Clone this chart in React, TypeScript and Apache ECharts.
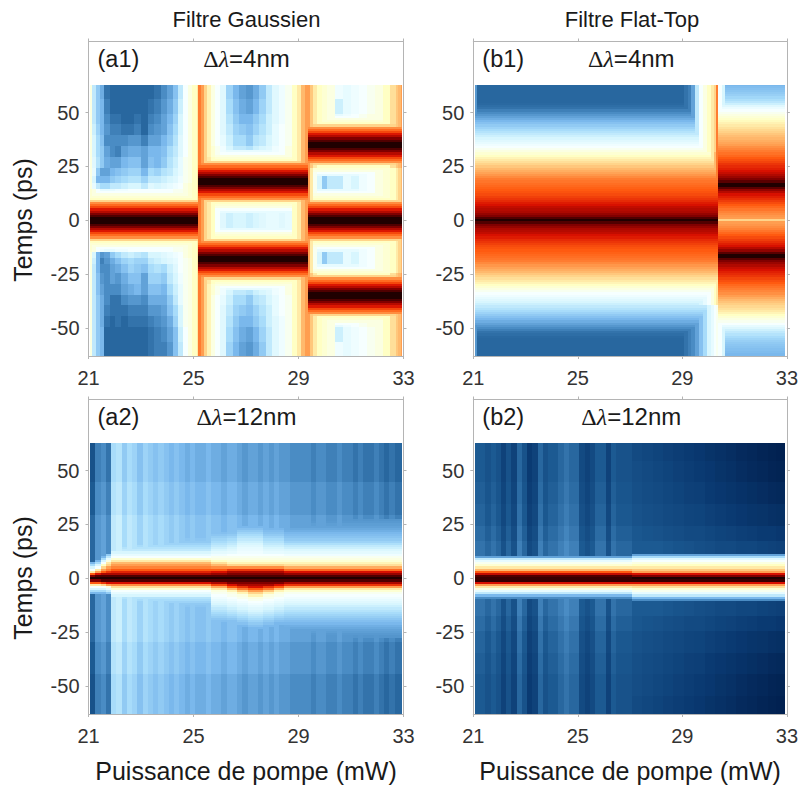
import React, { useEffect, useRef } from "react";
import * as echarts from "echarts";

// Colour scale: value 0..28 maps evenly onto these colours
const colourScale = ["#01204f","#0a3a72","#1c5a92","#4a8cc4","#7ab8ec","#a8dcfa","#d8f6fe","#f6ffff","#ffffc4","#ffd48a","#ff9e50","#ff5a10","#d81000","#800000","#200000"];

const xTicks = [21, 25, 29, 33];
const yTicks = [-50, -25, 0, 25, 50];

// ---------- Panel a1 ----------
const a1Cols = [21.06,21.15,21.3,21.45,21.6,21.8,22,22.25,22.5,22.75,23,23.25,23.5,23.75,24,24.2,24.4,24.6,24.8,24.95,25.05,25.15,25.18,25.3,25.4,25.5,25.65,25.8,26,26.25,26.5,26.75,27,27.25,27.5,27.75,28,28.25,28.5,28.75,28.95,29.1,29.25,29.36,29.45,29.55,29.7,29.9,30.1,30.4,30.7,31,31.3,31.6,31.9,32.2,32.5,32.7,32.8,32.9,32.94];
const a1Bands = [13, 15, 18, 21, 25, 30, 35, 40, 45, 50, 57, 64];
const a1ZoneATop = [
  [15.5,15,14,13,13,13,13.5,13.5,14,14,14,14,14,14,14,14.5,14.5,15,15.5,16,16,17],
  [15.5,15,14,13,13,13,13.5,13.5,14,14,14,14,14,14,14,14.5,14.5,15,15.5,16,16,17],
  [15,13,11,10,10,11,11,11.5,12,12,11,12.5,12,12.5,13,13.5,14,15,15.5,16,16,17],
  [15,12,8,8,8,9,9.5,10,10.5,10.5,9.5,11,11,11.5,12,12.5,13.5,14.5,15,16,16,17],
  [15,13,9,7,7,8,8.5,9,9.5,9.5,8,10,9.5,10.5,11,12,13,14.5,15,16,16,17],
  [15,12.5,10.5,9,7.5,7,7,8,8.5,8.5,7,8.5,8,9,10.5,11.5,13,14.5,15,16,16,17],
  [15,12,10,9,7,6,5.5,7,7.5,7.5,7,8,8,8.5,10,11,12.5,14,15,16,16,17],
  [15,12,10,8.5,6,6,6,6,6.5,6.5,5.5,7,7,8,9,10.5,12.5,14,15,16,16,17],
  [15,11.5,9.5,8,6.5,5.5,5.5,5,5,5.5,4.5,6,6.5,7,8.5,10,12,14,15,16,16,17],
  [15,11,9,8,6,5,5,4.5,4.5,5,4.5,5.5,6,7,8,9.5,12,14,15,16,16,17],
  [15,11,9,8,5.5,4.5,4.5,4.5,4.5,4.5,4.5,5,5.5,6.5,7.5,9,11.5,14,15,16,16,17],
  [15,11,9,7.5,5,4.5,4.5,4.5,4.5,4.5,4.5,4.5,5,6,7,8.5,11,14,15,16,16,17],
];
const a1ZoneABottom = [
  [15.5,15,14,13.5,13,13,13.5,13.5,14,14,14,14,14,14,14,14.5,14.5,15,15.5,16,16,17],
  [15.5,15,14,13.5,13,13,13.5,13.5,14,14,14,14,14,14,14,14.5,14.5,15,15.5,16,16,17],
  [15,12,8,6.5,7,9,10,11,11.5,11,10.5,12,12,12.5,13,13.5,14,15,15.5,16,16,17],
  [15,11.5,8,5.5,6.5,7.5,8.5,9.5,10,9.5,9.5,11,11.5,12,12.5,13,14,14.5,15,16,16,17],
  [15,11,8,6,6,7,7.5,8.5,9.5,9,8.5,10,10.5,10,11.5,12.5,14,14.5,15,16,16,17],
  [15,11,8.5,6.5,6,7,6.5,7.5,8.5,8.5,7,9.5,9.5,9,11,12,13.5,14.5,15,16,16,17],
  [15,11,8.5,7,6,6,6,7,7.5,8,7,8.5,8.5,8,10,11.5,13,14.5,15,16,16,17],
  [15,11,9,7.5,6,5,5,6,6.5,6.5,6,7.5,7.5,7.5,9,11,13,14.5,15,16,16,17],
  [15,11,9,7.5,5.5,5,5,5,5.5,5.5,5.5,6.5,6.5,7,8.5,10,12,14.5,15,16,16,17],
  [15,11,9,7.5,5,4.5,5,4.5,5,5,5,5.5,6,6.5,7.5,9.5,12,14.5,15,16,16,17],
  [15,11,9,8,4.5,4.5,4.5,4.5,4.5,4.5,4.5,5,5.5,6,7,8.5,11.5,14,15,16,16,17],
  [15,11,9,8,4.5,4.5,4.5,4.5,4.5,4.5,4.5,5,5.5,5.5,6.5,8.5,11,14,15,16,16,17],
];
const a1ZoneB = [
  [21,20,18,17,16,14,12.5,11.5,12,12,11.5,12,12.5,13,13,12.5,13,16,17,19,20],
  [21,20,18,17,16,15,14,13,12.5,12.5,13,13,13,13.5,14,14.5,15,16,17,19,20],
  [21,20,18,17,16,15,14,13,12.5,12.5,13,13,13,13.5,14,14.5,15,16,17,19,20],
  [21,20,18,17,16,15,14,13,12.5,12.5,13,13,13,13.5,14,14.5,15,16,17,19,20],
  [21,20,18,17,16,15,14,13,12.5,12.5,13,13,13,13.5,14,14.5,15,16,17,19,20],
  [21,20,18,17,16,15,14,13,12.5,12.5,13,13,13,13.5,14,14.5,15,16,17,19,20],
  [21,20,18,16.5,15.5,14.5,13.5,12,11,11,10.5,11.5,12,12.5,13.5,14,15,16,17,19,20],
  [21,20,18,16.5,15,14,13,11.5,10,10,9,10.5,11,12,13,14,14.5,16,17,19,20],
  [21,20,18,16.5,15,14,12.5,11,9.5,9,8.5,9.5,10.5,11.5,13,14,14.5,16,17,19,20],
  [21,20,18,16.5,15,14,12.5,10.5,9,8,8,9,10,11.5,12.5,13.5,14.5,16,17,19,20],
  [21,20,18,16.5,15,14,12.5,10,8.5,7.5,7,8,9.5,11,12.5,13.5,14.5,16,17,19,20],
  [21,20,18,16.5,15,14,12.5,9.5,8,7,6.5,7.5,9,11,12.5,13.5,14.5,16,17,19,20],
];
const a1ZoneC = [
  [20,17,14.5,12,9,11,11,13,12,13.5,14,15,15.5,16,17,18,19],
  [20,17,14.5,12,9,11,11,13,12,13.5,14,15,15.5,16,17,18,19],
  [20,17,14.5,12,9,11,11,13,12,13.5,14,15,15.5,16,17,18,19],
  [20,17,14.5,12,9,11,11,13,12,13.5,14,15,15.5,16,17,18,19],
  [20,17,14.5,12,9,11,11,13,12,13.5,14,15,15.5,16,17,18,19],
  [20,18.5,17,16,15.5,15,14,14,14,14.5,15,15,16,17.5,18.5,19,20],
  [20,18.5,17,16,15.5,15,14,14,14,14.5,15,15,16,17.5,18.5,19,20],
  [20,18.5,17,16,15.5,15,14,14,14,14.5,15,15,16,17.5,18.5,19,20],
  [20,18.5,17,16,15.5,15,14,14,14,14.5,15,15,16,17.5,18.5,19,20],
  [20,18.5,17,16,15.5,15,13,13.5,14,14.5,15,15,16,17.5,18.5,19,20],
  [20,18.5,17,16,15.5,15,11.5,13,13.5,14,14.5,15,16,17.5,18.5,19,20],
  [20,18.5,17,16,15.5,15,13.5,13,13.5,14,14.5,15,16,17.5,18.5,19,20],
];
const a1PulseShape = [28,28,27,26,24.8,23.8,22.5,21.5,20.5,18,16,15.5,15,14,13];
const a1CentresA = [0];
const a1CentresB = [-18, 18];
const a1CentresC = [-35, 0, 35];

// ---------- Panel b1 ----------
const b1Cols = [21.06,21.15,21.4,24,26,27.5,28.25,28.75,28.9,29.05,29.2,29.35,29.5,29.65,29.8,29.95,30.1,30.2,30.3,30.36,30.5,30.65,30.8,32.94];
const b1Bands = [18, 25, 32, 40, 64];
const b1BgTop = [
  [0,0,0,0,0,0,0,0,0,0,0,0,0,0,0,0,0,0,0,0,0,0,0],
  [0,0,0,0,0,0,0,0,0,0,0,0,0,0,0,0,0,0,21,0,0,0,0],
  [0,0,0,0,0,0,0,0,0,0,0,0,0,0,0,0,17,19,21,0,0,0,0],
  [6.5,0,0,0,0,0,0,4.5,4.5,5,5.5,7,11,14,15,16,17,18,21,14,12,0,0],
  [6.5,0,0,0,0,0,0,4.5,4.5,5,5.5,7,11,14,15,16,17,18,21,14,12,0,0],
];
const b1BgBottom = [
  [0,0,0,0,0,0,0,0,0,0,0,0,0,0,0,0,0,0,0,0,0,0,0],
  [0,0,0,0,0,0,0,0,0,0,0,0,0,0,0,0,0,0,0,0,0,0,0],
  [0,0,0,0,0,0,0,0,0,0,0,0,0,0,0,0,0,16,17,0,0,0,0],
  [6.5,0,0,0,0,0,0,0,0,0,0,8,10,12,13,14,15,16,17,0,0,0,0],
  [6.5,0,0,0,0,0,0,4.5,4.5,5,5.5,6,7,8.5,10,12,13,14,14.5,14,12,0,0],
];
const b1Left = [28,27,26,25.5,25,24.8,24.5,24,23.7,23.3,23,22.7,22.4,22.2,22,21.8,21.6,21.4,21.2,21,20.6,20.2,19.8,19.4,19,18.5,18,17.5,17,16.5,16,15.5,15,14.5,14,13.5,13,12.5,12,11.5,11,10.5,10,9.5,9,8.5,8,7.5,7,6.5,6,5.5,5,4.8,4.6,4.5,4.5,4.5,4.5,4.5,4.5,4.5,4.5,4.5];
const b1RightTop = [18,20,20.2,20.5,20.8,21.2,21.6,22,22.4,22.8,23.2,23.6,24,24.8,25.6,26.8,28,28,26.8,26,25.4,24.9,24.4,24,23.6,23.3,23,22.6,22.3,22,21.6,21.3,21,20.7,20.4,20,19.7,19.4,19.1,18.8,18.5,18.1,17.8,17.4,17,16.6,16.2,15.8,15.4,15,14.5,14,13.3,12.5,11.5,10.8,10.2,9.7,9.3,9,8.7,8.5,8.3,8];
const b1RightBottom = [18,20,20.2,20.5,20.8,21.2,21.6,22,22.4,22.8,23.2,23.6,24,24.8,25.6,26.8,28,28,26.8,26,25.4,24.9,24.4,24,23.6,23.3,23,22.6,22.3,22,21.6,21.3,21,20.7,20.4,20,19.5,19,18.6,18.2,17.8,17.4,17,16.5,16,15.5,15,14.5,14,13,12.3,11.6,11,10.5,10,9.6,9.3,9,8.8,8.6,8.4,8.2,8,8];

// ---------- Panel a2 ----------
const a2Cols = [21.06,21.26,21.46,21.66,21.86,22.06,22.26,22.46,22.66,22.86,23.06,23.26,23.46,23.66,23.86,24.06,24.26,24.46,24.66,24.86,25.06,25.26,25.46,25.66,25.86,26.06,26.26,26.46,26.66,26.86,27.06,27.26,27.46,27.66,27.86,28.06,28.26,28.46,28.66,28.86,29.06,29.26,29.46,29.66,29.86,30.06,30.26,30.46,30.66,30.86,31.06,31.26,31.46,31.66,31.86,32.06,32.26,32.46,32.66,32.94];
const a2Stripes = [3.5,5.5,6,5,10,10.5,9,10,9.5,8.5,9.5,9,8.5,9,8.5,8,8.5,8,7.5,8,7.5,7.5,8,7.5,7.5,7,7.5,7.5,7,6.5,7,7,6.5,7,6.5,7,6.5,6.5,6,6,6,6,5.5,6,6,5.5,5.5,6,5.5,5.5,5,5.5,5,5,5.5,5,4.5,5,4.5];
const a2Bands = [30, 45, 64];
const a2BandLift = [1, 0.5, 0];
const a2FlatTop = [28,27,25,23.5,22,20.8,20,19,17,15.5,14,13,12,11,10.5,10,9.5,9,8.8,8.5,8.2,8];
const a2FlatBottom = [28,27,24,20.5,17.5,15.5,14,13,12,10.5,10,9.5,9,8.8,8.5,8.2,8];
const a2NearTop = [28,27,25.5,24,22,20.5,19,17.5,16,15,14.5,13.5,12.8,12,11.5,11,10.5,10,9.6,9.2,8.8,8.4,8,7.6,7.3];
const a2NearBottom = [28,27,25,22.5,19.5,17,15,14.5,14,13.5,13,12.5,12,11.5,11,10.5,10,9.6,9.2,8.8,8.4,8,7.6,7.3];
const a2ShoulderTop = [28,27,26,25,23,20.5,18,16.5,15.5,15,14.5,14,13,12.5,12,11.5,11,10.5,10,9.5,9,8.6,8.3,7.9,7.5,7.2];
const a2CentreTop = [28,27,26,25,23,20.5,18,16.5,15.5,15,14.5,14,13.5,13.2,13,12.5,12,11.5,11,10.5,10,9.5,9,8.5,8,7.5,7];
const a2Bump1Bottom = [28,27,26,24,22,19,16.5,15,14.5,14,13.5,13,12.5,12,11.5,11,10.5,10,9.5,9,8.5,8,7.5,7];
const a2Bump2Bottom = [28,27,26,25,23,21,18.5,16.5,15,14.5,14,13.5,13,12.5,12,11.5,11,10.5,10,9.5,9,8.5,8,7.5,7];
const a2Bump3Bottom = [28,27,26,25,24,22,20,18,16.5,15,14.5,14,13.5,13,12.5,12,11.5,11,10.5,10,9.5,9,8.5,8,7.5,7];
const a2TailTop = [28,27,25.5,24,21.5,19.5,17.5,16.5,15.5,15,14.5,13.5,12.8,12.2,11.5,11,10.2,9.5,9,8.6,8.3,8,7.6,7.3,7,6.8,6.6,6.4];
const a2TailBottom = [28,27,25,23,20,17,15.5,14.5,14,13.5,13,12.5,12,11.5,11,10.5,10,9.6,9.2,8.8,8.4,8,7.6,7.3,7,6.8,6.6,6.4];
// Upper limit of each pump range and the pulse profile in that range
const a2Ranges: [number, number[], number[]][] = [
  [21.2, [28,26,22,17,14,12,10,8], [28,26,22,17,14,12,10,8]],
  [21.4, [28,27,24,20,17,14,12,10,8], [28,26,22,17,14,12,10,8]],
  [21.6, [28,27,25,22,20,18,16,14,12,10,8], [28,27,23,18,14,12,10,8]],
  [21.8, [28,27,25,23,21,20,18,17,15,13,11,9], [28,27,24,20,15,13,11,9]],
  [25.6, a2FlatTop, a2FlatBottom],
  [26.2, a2NearTop, a2NearBottom],
  [26.6, a2ShoulderTop, a2Bump1Bottom],
  [27.0, a2CentreTop, a2Bump2Bottom],
  [27.6, a2CentreTop, a2Bump3Bottom],
  [28.0, a2ShoulderTop, a2Bump2Bottom],
  [28.4, a2ShoulderTop, a2Bump1Bottom],
  [34, a2TailTop, a2TailBottom],
];

// ---------- Panel b2 ----------
const b2Cols = [21.06,21.26,21.46,21.66,21.86,22.06,22.26,22.46,22.66,22.86,23.06,23.26,23.46,23.66,23.86,24.06,24.26,24.46,24.66,24.86,25.06,25.26,25.46,25.66,25.86,26.06,26.26,26.46,26.66,26.86,27.06,27.46,27.86,28.26,28.66,29.06,29.46,29.86,30.26,30.66,31.06,31.46,31.86,32.26,32.6,32.94];
const b2Stripes = [4,4,3.5,4,3.5,2.5,3.5,2.5,4.5,3.5,2,2.5,4.5,3.5,4,4,4.5,5,4.5,4.5,3,2.5,3,4,4,2.5,4,3.5,3.5,3.5];
const b2Bands = [12, 18, 25, 35, 45, 55, 64];
const b2BandLift = [1, 1, 0.7, 0.4, 0.2, 0, 0];
const b2Right = [
  [4,4,4,3.8,3.6,3.5,3.3,3.2,3,3,2.8,2.8,2.6,2.5,2.4],
  [4,4,4,3.8,3.6,3.5,3.3,3.2,3,3,2.8,2.8,2.6,2.5,2.4],
  [3.8,3.6,3.5,3.3,3.2,3,3,2.8,2.6,2.5,2.3,2.2,2,2,1.8],
  [3.5,3.3,3.2,3,2.9,2.7,2.6,2.4,2.2,2,1.8,1.6,1.5,1.3,1.2],
  [3.3,3.1,3,2.8,2.6,2.4,2.3,2,1.8,1.6,1.4,1.2,1,0.8,0.7],
  [3.2,3,2.8,2.6,2.4,2.2,2,1.8,1.5,1.3,1,0.8,0.6,0.4,0.3],
  [3,2.8,2.6,2.4,2.2,2,1.8,1.5,1.3,1.1,0.8,0.6,0.4,0.2,0.1],
];
const b2LowTop = [27.5,27,24.5,22,19,17,15.5,14.5,13,11,7];
const b2LowBottom = [28,27.5,24,20,17,15,13,11,8,6];
const b2HighTop = [28,26,24,20,18.5,17,16,15,14,12.5,10,7];
const b2HighBottom = [28,27.5,24,20,17.5,15.5,14.5,13,11,8,6];

type Profile = { top: number[]; bottom: number[] };

const pulses = (centres: number[]): Profile => {
  const side = (sign: number) => {
    const out: number[] = [];
    for (let t = 0; t < 64; t++) {
      let v = 0;
      centres.forEach((c) => { v = Math.max(v, a1PulseShape[Math.abs(sign * t - c)] ?? 0); });
      out.push(v);
    }
    return out;
  };
  return { top: side(1), bottom: side(-1) };
};

// One cell per column and run of equal rows: [x0, x1, y0, y1, value]
function buildCells(cols: number[], bands: number[], bgTop: number[][], bgBottom: number[][], profileOf: (j: number) => Profile) {
  const cells: number[][] = [];
  for (let j = 0; j < cols.length - 1; j++) {
    const p = profileOf(j);
    let start = -63, prev = NaN;
    for (let t = -63; t <= 64; t++) {
      let v = NaN;
      if (t <= 63) {
        const a = Math.abs(t);
        const b = bands.findIndex((e) => a < e);
        const bg = (t >= 0 ? bgTop : bgBottom)[b][j];
        const pv = (t >= 0 ? p.top[a] : p.bottom[a]) ?? 0;
        v = Math.max(bg, pv);
      }
      if (v !== prev) {
        if (!isNaN(prev)) cells.push([cols[j], cols[j + 1], Math.max(-63, start - 0.5), Math.min(63, t - 0.5), prev]);
        start = t;
        prev = v;
      }
    }
  }
  return cells;
}

const a1RowsTop = a1ZoneATop.map((r, i) => r.concat(a1ZoneB[i], a1ZoneC[i]));
const a1RowsBottom = a1ZoneABottom.map((r, i) => r.concat(a1ZoneB[i], a1ZoneC[i]));
const a1P = [pulses(a1CentresA), pulses(a1CentresB), pulses(a1CentresC)];
const a1Cells = buildCells(a1Cols, a1Bands, a1RowsTop, a1RowsBottom, (j) => (j < 22 ? a1P[0] : j < 43 ? a1P[1] : a1P[2]));
const b1Cells = buildCells(b1Cols, b1Bands, b1BgTop, b1BgBottom, (j) => j < 19 ? { top: b1Left, bottom: b1Left } : { top: b1RightTop, bottom: b1RightBottom });
const a2Rows = a2BandLift.map((l) => a2Stripes.map((v) => v + l));
const a2Cells = buildCells(a2Cols, a2Bands, a2Rows, a2Rows, (j) => {
  const x = a2Cols[j];
  const r = a2Ranges.find((e) => x < e[0])!;
  return { top: r[1], bottom: r[2] };
});
const b2Rows = b2Right.map((r, i) => b2Stripes.map((v) => v + b2BandLift[i]).concat(r));
const b2Cells = buildCells(b2Cols, b2Bands, b2Rows, b2Rows, (j) => (b2Cols[j] < 27 ? { top: b2LowTop, bottom: b2LowBottom } : { top: b2HighTop, bottom: b2HighBottom }));

const panels = [
  { cells: a1Cells, left: 88.5, top: 41.5, tag: "(a1)", width: "4nm", yName: true, xName: false },
  { cells: b1Cells, left: 473.3, top: 41.5, tag: "(b1)", width: "4nm", yName: false, xName: false },
  { cells: a2Cells, left: 88.5, top: 399.5, tag: "(a2)", width: "12nm", yName: true, xName: true },
  { cells: b2Cells, left: 473.3, top: 399.5, tag: "(b2)", width: "12nm", yName: false, xName: true },
];

const FONT = '"Liberation Sans", Arial, sans-serif';
const AXIS = "#b4b4b4";
const TICK_TEXT = "#333333";
const INK = "#1a1a1a";

export default function App() {
  const ref = useRef<HTMLDivElement>(null);
  useEffect(() => {
    document.body.style.margin = "0";
    const chart = echarts.init(ref.current!, undefined, { renderer: "svg" });
    const grid: any[] = [], xAxis: any[] = [], yAxis: any[] = [], series: any[] = [], graphic: any[] = [];
    panels.forEach((p, i) => {
      grid.push({ left: p.left, top: p.top, width: 315, height: 314.5 });
      const line = { show: true, onZero: false, lineStyle: { color: AXIS, width: 1 } };
      const tick = { show: true, inside: false, length: 3, lineStyle: { color: AXIS, width: 1 } };
      xAxis.push({
        type: "value", gridIndex: i, min: 21, max: 33, interval: 4, position: "bottom",
        axisLine: line, axisTick: { ...tick, customValues: xTicks }, splitLine: { show: false },
        axisLabel: { show: true, customValues: xTicks, fontSize: 20, fontFamily: FONT, color: TICK_TEXT, margin: 12 },
        name: p.xName ? "Puissance de pompe (mW)" : "", nameLocation: "middle", nameGap: 44,
        nameTextStyle: { fontSize: 25, fontFamily: FONT, color: INK },
      });
      xAxis.push({
        type: "value", gridIndex: i, min: 21, max: 33, interval: 4, position: "top",
        axisLine: line, axisTick: { ...tick, customValues: xTicks }, axisLabel: { show: false }, splitLine: { show: false },
      });
      yAxis.push({
        type: "value", gridIndex: i, min: -63, max: 83, position: "left",
        axisLine: line, axisTick: { ...tick, customValues: yTicks }, splitLine: { show: false },
        axisLabel: { show: true, customValues: yTicks, fontSize: 20, fontFamily: FONT, color: TICK_TEXT, margin: 9 },
      });
      yAxis.push({
        type: "value", gridIndex: i, min: -63, max: 83, position: "right",
        axisLine: line, axisTick: { ...tick, customValues: yTicks }, axisLabel: { show: false }, splitLine: { show: false },
      });
      series.push({
        type: "custom", coordinateSystem: "cartesian2d", xAxisIndex: i * 2, yAxisIndex: i * 2,
        data: p.cells, encode: { x: [0, 1], y: [2, 3] }, silent: true, progressive: 0,
        renderItem: (_: any, api: any) => {
          const a = api.coord([api.value(0), api.value(3)]);
          const b = api.coord([api.value(1), api.value(2)]);
          const x0 = Math.round(a[0]), x1 = Math.round(b[0]), y0 = Math.round(a[1]), y1 = Math.round(b[1]);
          return { type: "rect", shape: { x: x0, y: y0, width: x1 - x0, height: y1 - y0 }, style: { fill: api.visual("color") } };
        },
      });
      graphic.push({ type: "text", x: p.left + 9, y: p.top + 17, style: { text: p.tag, font: `23.5px ${FONT}`, fill: INK, textVerticalAlign: "middle" } });
      graphic.push({
        type: "text", x: p.left + 158, y: p.top + 17,
        style: {
          text: `{d|Δ}{l|λ}{r|=${p.width}}`, textAlign: "center", textVerticalAlign: "middle",
          rich: {
            d: { font: '24px "Liberation Serif", serif', fill: INK },
            l: { font: 'italic 24px "Liberation Serif", serif', fill: INK },
            r: { font: `24px ${FONT}`, fill: INK },
          },
        },
      });
      if (p.yName) {
        graphic.push({ type: "text", x: 23, y: p.top + 178.5, rotation: Math.PI / 2, style: { text: "Temps (ps)", font: `25px ${FONT}`, fill: INK, textAlign: "center", textVerticalAlign: "middle" } });
      }
    });
    graphic.push({ type: "text", x: 246.5, y: 19, style: { text: "Filtre Gaussien", font: `22px ${FONT}`, fill: INK, textAlign: "center", textVerticalAlign: "middle" } });
    graphic.push({ type: "text", x: 632, y: 19, style: { text: "Filtre Flat-Top", font: `22px ${FONT}`, fill: INK, textAlign: "center", textVerticalAlign: "middle" } });
    chart.setOption({
      animation: false,
      backgroundColor: "#ffffff",
      grid, xAxis, yAxis, series, graphic,
      visualMap: { show: false, type: "continuous", seriesIndex: [0, 1, 2, 3], dimension: 4, min: 0, max: 28, inRange: { color: colourScale } },
    });
    return () => chart.dispose();
  }, []);
  return <div ref={ref} style={{ position: "absolute", left: 0, top: 0, width: 801, height: 786 }} />;
}
